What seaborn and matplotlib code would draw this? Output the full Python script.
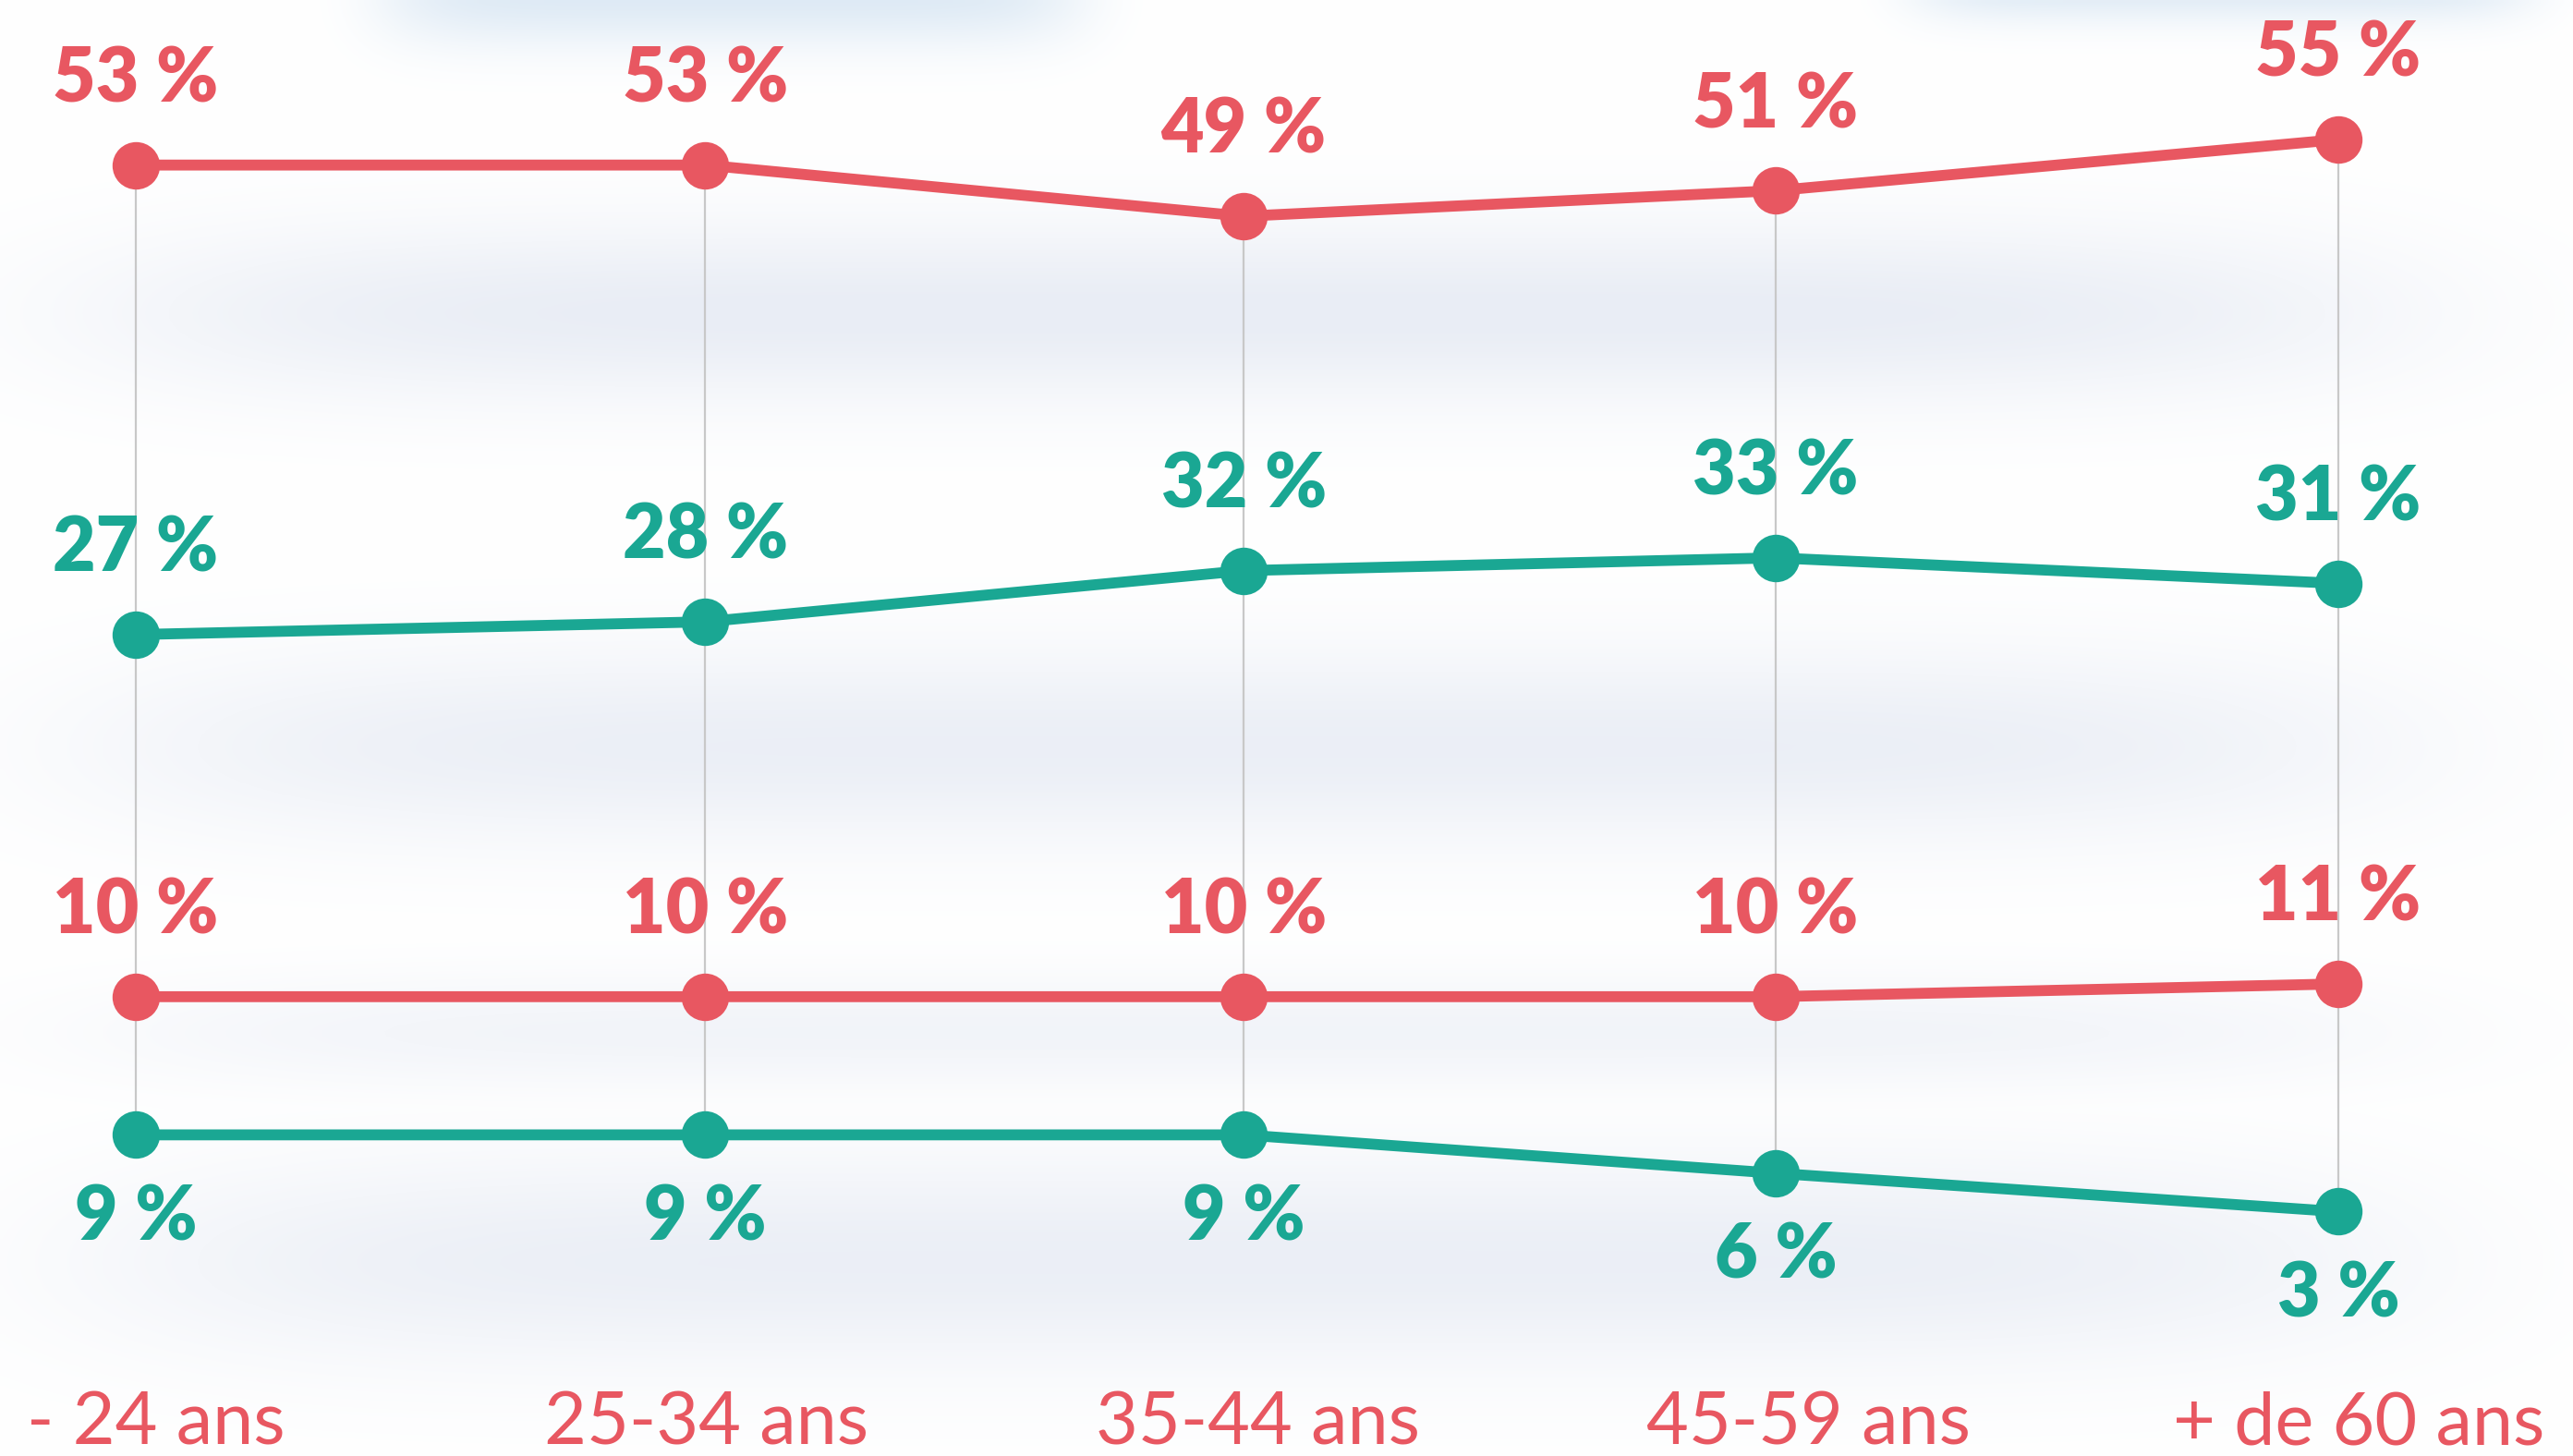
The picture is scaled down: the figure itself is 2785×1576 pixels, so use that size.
import numpy as np
import pandas as pd
import seaborn as sns
import matplotlib.pyplot as plt
import matplotlib.transforms as mtransforms

# values (percent)
ages = ["- 24 ans", "25-34 ans", "35-44 ans", "45-59 ans", "+ de 60 ans"]
red_high = [53, 53, 49, 51, 55]
teal_high = [27, 28, 32, 33, 31]
red_low = [10, 10, 10, 10, 11]
teal_low = [9, 9, 9, 6, 3]

RED = "#e85761"
TEAL = "#1aa793"

# layout: where each age column sits (the columns are not evenly spaced)
col_x = [0, 1.034, 2.012, 2.978, 4]

# each curve sits in its own band: (values, colour, band offset, label above?)
series = [
    ("red_high", red_high, RED, 47.9, True),
    ("teal_high", teal_high, TEAL, 37.2, True),
    ("red_low", red_low, RED, 25.9, True),
    ("teal_low", teal_low, TEAL, 16.1, False),
]

rows = []
for name, vals, col, off, above in series:
    for i, v in enumerate(vals):
        rows.append({"serie": name, "pos": col_x[i], "age": ages[i], "value": v, "y": v + off})
df = pd.DataFrame(rows)

sns.set_style("white")
plt.rcParams["font.family"] = ["Lato", "DejaVu Sans"]

fig = plt.figure(figsize=(27.85, 15.76), dpi=100)
ax = fig.add_axes([0, 0, 1, 1])
XMIN, XMAX = -0.2466, 4.426
YMIN, YMAX = 0, 113.8
ax.set_xlim(XMIN, XMAX)
ax.set_ylim(YMIN, YMAX)

# soft watercolour-like background
H, W = 300, 530
yy, xx = np.mgrid[0:887:H * 1j, 0:1568:W * 1j]
def blob(cx, cy, sx, sy, p=6):
    return np.exp(-np.abs((xx - cx) / sx) ** p - ((yy - cy) / sy) ** 2)
grey = np.maximum.reduce([
    blob(760, 190, 700, 55),
    0.9 * blob(760, 455, 700, 60),
    0.6 * blob(760, 630, 700, 35),
    0.9 * blob(760, 770, 700, 65),
])
blue = np.maximum(blob(445, -5, 215, 32, 8), blob(1355, -10, 190, 22, 8))
img = np.ones((H, W, 3))
g_col = np.array([233, 237, 245]) / 255
b_col = np.array([222, 234, 245]) / 255
for c in range(3):
    img[..., c] = 1 - grey * (1 - g_col[c])
    img[..., c] = img[..., c] - blue * (img[..., c] - b_col[c])
ax.imshow(img, extent=(XMIN, XMAX, YMIN, YMAX), aspect="auto", zorder=0, interpolation="bilinear")

# thin grey connectors between top and bottom points
top = np.array(red_high) + series[0][3]
bot = np.array(teal_low) + series[3][3]
ax.vlines(col_x, bot, top, color="#c8c8c8", lw=1.6, zorder=1)

for name, vals, col, off, above in series:
    d = df[df["serie"] == name]
    sns.lineplot(data=d, x="pos", y="y", color=col, lw=8.5, marker="o",
                 markersize=37, markeredgewidth=0, ax=ax, zorder=3)
    for _, r in d.iterrows():
        ax.annotate(f"{r['value']} %", (r["pos"], r["y"]),
                    xytext=(0, 66 if above else -65), textcoords="offset points",
                    ha="center", va="center", fontsize=58, fontweight="heavy",
                    color=col, zorder=4)

ax.set_xticks(range(len(ages)), ages)
ax.set_yticks([])
ax.tick_params(axis="x", length=0, pad=-9, labelsize=57, labelcolor=RED)
shift = mtransforms.ScaledTranslation(22 / 100, 0, fig.dpi_scale_trans)
for lbl in ax.get_xticklabels():
    lbl.set_va("baseline")
    lbl.set_transform(lbl.get_transform() + shift)
ax.set_xlabel("")
ax.set_ylabel("")
for s in ax.spines.values():
    s.set_visible(False)
if ax.get_legend():
    ax.get_legend().remove()

fig.savefig("out.png", dpi=100)
